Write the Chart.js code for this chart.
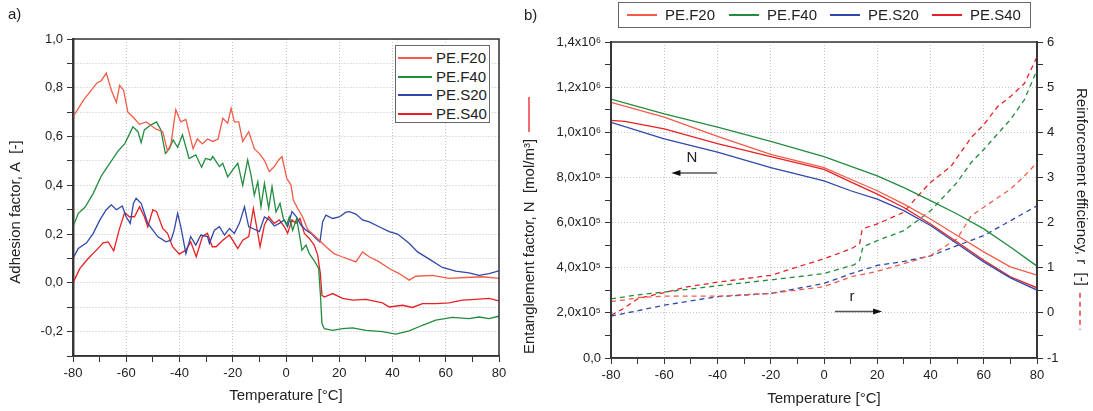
<!DOCTYPE html>
<html>
<head>
<meta charset="utf-8">
<script src="https://cdn.jsdelivr.net/npm/chart.js@4.4.1/dist/chart.umd.min.js"></script>
<style>
  body { margin: 0; background: #fff; font-family: "Liberation Sans", Arial, sans-serif; color: #222; }
  #wrap { position: relative; width: 1093px; height: 411px; overflow: hidden; }
  canvas { position: absolute; top: 0; }
  .lbl { position: absolute; font-size: 15px; }
  .legend { position: absolute; background: #fff; border: 1px solid #666; font-size: 15px; box-sizing: border-box; }
  .legend .item { position: absolute; white-space: nowrap; line-height: 18px; }
  .legend .swatch { position: absolute; height: 2px; }
</style>
</head>
<body>
<div id="wrap">
  <canvas id="chartA" width="520" height="411" style="left:0"></canvas>
  <canvas id="chartB" width="588" height="411" style="left:505px"></canvas>
  <div class="lbl" style="left:8px; top:5px;">a)</div>
  <div class="lbl" style="left:524px; top:6px;">b)</div>
  <div class="legend" id="legA" style="left:395px; top:45px; width:95px; height:78px;"></div>
  <div class="legend" id="legB" style="left:618px; top:2px; width:413px; height:26px;"></div>
</div>
<script>
// series names and colours
const seriesNames = ['PE.F20', 'PE.F40', 'PE.S20', 'PE.S40'];
const seriesColors = ['rgb(242,92,72)', 'rgb(34,140,62)', 'rgb(48,72,170)', 'rgb(232,32,36)'];

// tick labels
const tempTicks = [-80, -60, -40, -20, 0, 20, 40, 60, 80];
const tempLabels = ['-80', '-60', '-40', '-20', '0', '20', '40', '60', '80'];
const adhTicks = [-0.2, 0, 0.2, 0.4, 0.6, 0.8, 1.0];
const adhLabels = ['-0,2', '0,0', '0,2', '0,4', '0,6', '0,8', '1,0'];
const entTicks = [0, 2e5, 4e5, 6e5, 8e5, 1e6, 1.2e6, 1.4e6];
const entLabels = ['0,0', '2,0x10\u2075', '4,0x10\u2075', '6,0x10\u2075', '8,0x10\u2075', '1,0x10\u2076', '1,2x10\u2076', '1,4x10\u2076'];
const effTicks = [-1, 0, 1, 2, 3, 4, 5, 6];
const effLabels = ['-1', '0', '1', '2', '3', '4', '5', '6'];

// panel a) adhesion factor A vs temperature
const tF20a = [-80, -76, -71, -69.3, -67.5, -65.6, -63.7, -62.5, -61, -59.4, -57.5, -55, -52.5, -48.8, -46.3, -44.5, -43.2, -41.4, -39.5, -37.6, -34.9, -33.3, -31.4, -29.5, -27.5, -25.5, -23.75, -21.9, -20.6, -19.4, -17.75, -16.25, -14, -11.9, -10, -8, -6.25, -4.4, -2.75, -1.5, 0.25, 1.9, 2.75, 4.4, 6.25, 8.1, 10, 12.5, 15, 18, 21, 23.75, 26.25, 28.75, 31.25, 35, 38.75, 42.5, 46.25, 48.75, 55, 61.25, 67.5, 73.75, 80];
const aF20 = [0.68, 0.75, 0.82, 0.83, 0.86, 0.79, 0.74, 0.81, 0.79, 0.70, 0.68, 0.65, 0.66, 0.63, 0.62, 0.54, 0.57, 0.71, 0.66, 0.67, 0.55, 0.59, 0.57, 0.59, 0.58, 0.59, 0.675, 0.655, 0.716, 0.66, 0.66, 0.58, 0.62, 0.55, 0.53, 0.50, 0.456, 0.477, 0.504, 0.518, 0.43, 0.40, 0.34, 0.305, 0.27, 0.22, 0.20, 0.175, 0.148, 0.12, 0.107, 0.096, 0.086, 0.127, 0.107, 0.086, 0.059, 0.038, 0.011, 0.027, 0.031, 0.018, 0.022, 0.025, 0.018];

const tF40a = [-80, -78, -75.5, -72.4, -69.3, -66.2, -63.1, -60.6, -58.8, -57.5, -55.6, -54.4, -53.2, -50.7, -48.6, -47, -45.3, -43.8, -42.4, -40.7, -38.9, -36.4, -33.9, -31.7, -30.2, -28.3, -27.5, -25, -23.75, -21.9, -20, -18.1, -16.25, -14.4, -13.1, -11.9, -10.6, -9.4, -8.1, -6.5, -5.25, -3.75, -2.25, -1, 0.25, 1.25, 2.5, 4, 5, 6, 7.5, 8.75, 10, 11.25, 12.25, 12.9, 13.5, 14.4, 17.5, 21.25, 25, 30, 36.25, 41.25, 46.25, 51.25, 56.25, 62.5, 68.75, 72.5, 76.25, 80];
const aF40 = [0.23, 0.285, 0.31, 0.367, 0.44, 0.49, 0.54, 0.57, 0.61, 0.64, 0.62, 0.575, 0.627, 0.648, 0.66, 0.627, 0.53, 0.55, 0.586, 0.556, 0.607, 0.51, 0.525, 0.474, 0.51, 0.504, 0.518, 0.477, 0.49, 0.435, 0.463, 0.49, 0.40, 0.504, 0.44, 0.36, 0.415, 0.312, 0.408, 0.305, 0.394, 0.29, 0.326, 0.264, 0.237, 0.27, 0.216, 0.264, 0.20, 0.134, 0.155, 0.12, 0.10, 0.079, 0.059, -0.044, -0.167, -0.188, -0.195, -0.188, -0.185, -0.195, -0.20, -0.21, -0.197, -0.174, -0.153, -0.142, -0.147, -0.14, -0.147, -0.137];

const tS20a = [-80, -78, -74.9, -72.4, -69.9, -67.5, -65.6, -63.7, -61.5, -60, -58.5, -57.3, -56.3, -54.4, -51.9, -48.2, -45.1, -43.2, -42, -40.7, -39.5, -37.6, -35.8, -33.9, -32, -29.5, -28.75, -26.9, -25, -23.1, -21.25, -19.4, -17.5, -15.6, -14, -12.5, -10, -8.1, -6.25, -4.4, -2.5, -0.6, 0.6, 2.25, 4, 5.6, 7.5, 9.4, 11.25, 12.75, 13.75, 15, 17.5, 20, 22.5, 23.75, 26.25, 28.75, 31.25, 35, 38.75, 41.9, 46.25, 49.4, 54.4, 58.75, 63.75, 68.75, 72.5, 76.25, 80];
const aS20 = [0.10, 0.141, 0.164, 0.203, 0.258, 0.30, 0.32, 0.30, 0.315, 0.27, 0.244, 0.326, 0.347, 0.326, 0.244, 0.19, 0.168, 0.175, 0.216, 0.285, 0.23, 0.12, 0.19, 0.155, 0.196, 0.19, 0.162, 0.216, 0.23, 0.196, 0.223, 0.203, 0.244, 0.312, 0.23, 0.223, 0.21, 0.27, 0.258, 0.233, 0.244, 0.258, 0.23, 0.292, 0.27, 0.237, 0.216, 0.203, 0.182, 0.168, 0.25, 0.278, 0.264, 0.27, 0.29, 0.292, 0.282, 0.258, 0.25, 0.23, 0.21, 0.20, 0.162, 0.127, 0.093, 0.063, 0.048, 0.041, 0.031, 0.038, 0.049];

const tS40a = [-80, -77.4, -74.3, -71.2, -68.7, -66.8, -64.7, -62.7, -60.6, -58.8, -56.9, -55, -53.2, -51.9, -50, -48.6, -46.3, -44.5, -42.6, -40.1, -37.6, -35.8, -33.7, -31.4, -29.5, -27.7, -26.25, -23.75, -21.25, -18.1, -16.25, -14, -12.25, -10.6, -9.75, -8.1, -6.5, -4.4, -2.5, -0.6, 0.6, 2.25, 3.75, 5.25, 6.9, 8.75, 10.6, 11.9, 12.9, 13.5, 14.4, 17.5, 21.25, 25, 30, 36.25, 38.75, 43.75, 47.5, 51.25, 56.25, 61.25, 66.25, 71.25, 76.25, 80];
const aS40 = [0.0, 0.059, 0.10, 0.134, 0.164, 0.168, 0.131, 0.216, 0.288, 0.271, 0.271, 0.312, 0.271, 0.23, 0.30, 0.292, 0.223, 0.203, 0.148, 0.118, 0.134, 0.168, 0.107, 0.19, 0.203, 0.148, 0.148, 0.175, 0.196, 0.141, 0.175, 0.19, 0.305, 0.203, 0.148, 0.237, 0.271, 0.244, 0.258, 0.23, 0.203, 0.258, 0.244, 0.264, 0.203, 0.182, 0.155, 0.114, 0.038, -0.051, -0.058, -0.044, -0.064, -0.071, -0.068, -0.082, -0.099, -0.092, -0.101, -0.085, -0.085, -0.082, -0.071, -0.068, -0.064, -0.074];

// panel b) entanglement factor N (left axis)
const tF20N = [-80, -60, -40, -20, 0, 10, 20, 30, 40, 50, 60, 70, 80];
const nF20 = [1.133e6, 1.067e6, 0.982e6, 0.902e6, 0.843e6, 0.792e6, 0.741e6, 0.682e6, 0.616e6, 0.543e6, 0.470e6, 0.404e6, 0.367e6];
const tF40N = [-80, -60, -40, -20, 0, 20, 30, 40, 50, 60, 70, 80];
const nF40 = [1.147e6, 1.082e6, 1.023e6, 0.960e6, 0.892e6, 0.807e6, 0.755e6, 0.697e6, 0.638e6, 0.572e6, 0.492e6, 0.407e6];
const tS20N = [-80, -60, -40, -20, 0, 10, 20, 30, 40, 50, 60, 70, 80];
const nS20 = [1.044e6, 0.971e6, 0.912e6, 0.843e6, 0.785e6, 0.741e6, 0.704e6, 0.653e6, 0.587e6, 0.506e6, 0.426e6, 0.355e6, 0.301e6];
const tS40N = [-80, -74.8, -60, -40, -20, 0, 10, 20, 30, 40, 50, 60, 70, 80];
const nS40 = [1.053e6, 1.048e6, 1.015e6, 0.950e6, 0.892e6, 0.836e6, 0.780e6, 0.726e6, 0.667e6, 0.594e6, 0.514e6, 0.433e6, 0.360e6, 0.311e6];

// panel b) reinforcement efficiency r (right axis)
const tF20r = [-80, -74.75, -69.75, -60, -40, -20, 0, 10.25, 20, 30, 40, 50, 55.25, 60, 70, 75.25, 80];
const rF20 = [0.25, 0.29, 0.34, 0.37, 0.37, 0.43, 0.58, 0.80, 0.92, 1.09, 1.27, 1.64, 2.15, 2.34, 2.74, 3.03, 3.33];
const tF40r = [-80, -69.75, -60, -40, -20, 0, 11.5, 13.4, 14.6, 20, 30, 40, 50, 55.25, 60, 70, 75.25, 80];
const rF40 = [0.31, 0.40, 0.46, 0.60, 0.73, 0.87, 1.07, 1.16, 1.46, 1.60, 1.82, 2.26, 2.89, 3.33, 3.62, 4.28, 4.72, 5.38];
const tS20r = [-80, -69.75, -60, -40, -20, 0, 10.25, 20, 30, 40, 50, 60, 70, 80];
const rS20 = [-0.07, 0.05, 0.17, 0.36, 0.43, 0.65, 0.87, 1.05, 1.14, 1.26, 1.49, 1.71, 2.04, 2.37];
const tS40r = [-80, -76, -69.75, -60, -51, -40, -20, -9.75, 0, 10.25, 13.4, 14.25, 15.25, 20, 30, 35.25, 40, 47.75, 55.25, 60, 65.25, 70, 75.25, 80];
const rS40 = [-0.05, 0.07, 0.32, 0.45, 0.58, 0.68, 0.83, 1.02, 1.20, 1.42, 1.53, 1.82, 1.88, 1.97, 2.23, 2.59, 2.89, 3.25, 3.88, 4.17, 4.57, 4.79, 5.08, 5.67];

const FONT = '"Liberation Sans", Arial, sans-serif';
Chart.defaults.font.family = FONT;
Chart.defaults.color = '#222';

const pts = (xs, ys) => xs.map((x, i) => ({ x: x, y: ys[i] }));
const lab = (vals, labs) => v => {
  const i = vals.findIndex(t => Math.abs(t - v) <= Math.abs(t) * 1e-9 + 1e-9);
  return i < 0 ? '' : labs[i];
};
const range = (a, b, s) => { const out = []; for (let k = 0; a + k * s <= b + s * 1e-6; k++) out.push(+(a + k * s).toFixed(6)); return out; };
const setTicks = list => s => { s.ticks = list.map(v => ({ value: v })); };
const isMult = (v, m) => Math.abs(v / m - Math.round(v / m)) < 1e-6;

function line(xs, ys, color, axis, dashed) {
  return {
    data: pts(xs, ys), borderColor: color, borderWidth: 1.3, pointRadius: 0, tension: 0,
    yAxisID: axis || 'y', borderDash: dashed ? [5, 4] : [], fill: false
  };
}

function tempAxis(height) {
  return {
    type: 'linear', min: -80, max: 80,
    afterBuildTicks: setTicks(range(-80, 80, 10)),
    afterFit: s => { s.height = height; },
    ticks: { callback: lab(tempTicks, tempLabels), autoSkip: false, maxRotation: 0, padding: 4, font: { size: 13 }, color: '#222' },
    grid: { color: c => (c.tick && isMult(c.tick.value, 20)) ? '#c4c4c4' : 'rgba(0,0,0,0)', tickColor: '#333', tickLength: 6, lineWidth: 1 },
    border: { color: '#333', width: 1.5, dash: [1, 2] }
  };
}

function drawBox(ctx, a) {
  ctx.save();
  ctx.strokeStyle = '#333';
  ctx.lineWidth = 1.5;
  ctx.strokeRect(a.left, a.top, a.right - a.left, a.bottom - a.top);
  ctx.restore();
}

// ---------- panel a ----------
const decorA = {
  id: 'decorA',
  afterDraw(chart) {
    const { ctx, chartArea: a } = chart;
    drawBox(ctx, a);
    ctx.save();
    ctx.fillStyle = '#222';
    ctx.font = '15px ' + FONT;
    ctx.textAlign = 'center';
    ctx.textBaseline = 'middle';
    ctx.fillText('Temperature [\u00B0C]', (a.left + a.right) / 2, 396);
    ctx.translate(16, 212);
    ctx.rotate(-Math.PI / 2);
    ctx.fillText('Adhesion factor, A  [-]', 0, 0);
    ctx.restore();
  }
};

new Chart(document.getElementById('chartA'), {
  type: 'line',
  data: {
    datasets: [
      line(tF20a, aF20, seriesColors[0]),
      line(tF40a, aF40, seriesColors[1]),
      line(tS20a, aS20, seriesColors[2]),
      line(tS40a, aS40, seriesColors[3])
    ]
  },
  options: {
    responsive: false, animation: false,
    layout: { padding: { top: 39, right: 21, left: 0, bottom: 0 } },
    plugins: { legend: { display: false }, tooltip: { enabled: false } },
    scales: {
      x: tempAxis(55),
      y: {
        type: 'linear', min: -0.3, max: 1.0,
        afterBuildTicks: setTicks(range(-0.3, 1.0, 0.1)),
        afterFit: s => { s.width = 73; },
        ticks: { callback: lab(adhTicks, adhLabels), autoSkip: false, padding: 4, font: { size: 13 }, color: '#222' },
        grid: { color: '#c4c4c4', tickColor: '#333', tickLength: 6, lineWidth: 1 },
        border: { color: '#444', width: 2.5, dash: [1, 2] }
      }
    }
  },
  plugins: [decorA]
});

// ---------- panel b ----------
function arrow(ctx, x1, x2, y) {
  const dir = Math.sign(x2 - x1);
  ctx.strokeStyle = '#555';
  ctx.lineWidth = 1.5;
  ctx.beginPath();
  ctx.moveTo(x1, y);
  ctx.lineTo(x2 - dir * 6, y);
  ctx.stroke();
  ctx.fillStyle = '#111';
  ctx.beginPath();
  ctx.moveTo(x2, y);
  ctx.lineTo(x2 - dir * 9, y - 3);
  ctx.lineTo(x2 - dir * 9, y + 3);
  ctx.closePath();
  ctx.fill();
}

const decorB = {
  id: 'decorB',
  afterDraw(chart) {
    const { ctx, chartArea: a } = chart;
    const sx = chart.scales.x, sl = chart.scales.y, sr = chart.scales.y2;
    drawBox(ctx, a);
    ctx.save();
    ctx.fillStyle = '#222';
    ctx.font = '15px ' + FONT;
    ctx.textAlign = 'center';
    ctx.textBaseline = 'middle';
    ctx.fillText('Temperature [\u00B0C]', (a.left + a.right) / 2, 399);

    // annotations: N arrow (left axis), r arrow (right axis)
    ctx.fillText('N', sx.getPixelForValue(-49.6), sl.getPixelForValue(8.86e5));
    arrow(ctx, sx.getPixelForValue(-40.2), sx.getPixelForValue(-57.3), sl.getPixelForValue(8.2e5));
    ctx.fillStyle = '#222';
    ctx.fillText('r', sx.getPixelForValue(10.5), sr.getPixelForValue(0.36));
    arrow(ctx, sx.getPixelForValue(4.1), sx.getPixelForValue(21.8), sr.getPixelForValue(0.03));

    // left title, rotated, with solid red sample
    ctx.save();
    ctx.fillStyle = '#222';
    ctx.translate(25, 354);
    ctx.rotate(-Math.PI / 2);
    ctx.textAlign = 'left';
    const t1 = 'Entanglement factor, N  [mol/m\u00B3]';
    ctx.fillText(t1, 0, 0);
    const w1 = ctx.measureText(t1).width;
    ctx.strokeStyle = seriesColors[3];
    ctx.lineWidth = 1.3;
    ctx.beginPath();
    ctx.moveTo(w1 + 7, -1);
    ctx.lineTo(w1 + 42, -1);
    ctx.stroke();
    ctx.restore();

    // right title, rotated, with dashed red sample
    ctx.save();
    ctx.fillStyle = '#222';
    ctx.translate(576, 88);
    ctx.rotate(Math.PI / 2);
    ctx.textAlign = 'left';
    const t2 = 'Reinforcement efficiency, r  [-]';
    ctx.fillText(t2, 0, 0);
    const w2 = ctx.measureText(t2).width;
    ctx.strokeStyle = seriesColors[3];
    ctx.lineWidth = 1.3;
    ctx.setLineDash([5, 4]);
    ctx.beginPath();
    ctx.moveTo(w2 + 7, 1);
    ctx.lineTo(w2 + 44, 1);
    ctx.stroke();
    ctx.restore();

    ctx.restore();
  }
};

new Chart(document.getElementById('chartB'), {
  type: 'line',
  data: {
    datasets: [
      line(tF20N, nF20, seriesColors[0]),
      line(tF40N, nF40, seriesColors[1]),
      line(tS20N, nS20, seriesColors[2]),
      line(tS40N, nS40, seriesColors[3]),
      line(tF20r, rF20, seriesColors[0], 'y2', true),
      line(tF40r, rF40, seriesColors[1], 'y2', true),
      line(tS20r, rS20, seriesColors[2], 'y2', true),
      line(tS40r, rS40, seriesColors[3], 'y2', true)
    ]
  },
  options: {
    responsive: false, animation: false,
    layout: { padding: { top: 42, right: 0, left: 0, bottom: 0 } },
    plugins: { legend: { display: false }, tooltip: { enabled: false } },
    scales: {
      x: tempAxis(53),
      y: {
        type: 'linear', position: 'left', min: 0, max: 1.4e6,
        afterBuildTicks: setTicks(range(0, 14, 1).map(v => v * 1e5)),
        afterFit: s => { s.width = 106; },
        ticks: { callback: lab(entTicks, entLabels), autoSkip: false, padding: 4, font: { size: 13 }, color: '#222' },
        grid: { color: c => (c.tick && isMult(c.tick.value, 2e5)) ? '#c4c4c4' : 'rgba(0,0,0,0)', tickColor: '#333', tickLength: 6, lineWidth: 1 },
        border: { color: '#444', width: 2, dash: [1, 2] }
      },
      y2: {
        type: 'linear', position: 'right', min: -1, max: 6,
        afterBuildTicks: setTicks(range(-1, 6, 0.5)),
        afterFit: s => { s.width = 56; },
        ticks: { callback: lab(effTicks, effLabels), autoSkip: false, padding: 4, font: { size: 13 }, color: '#222' },
        grid: { drawOnChartArea: false, tickColor: '#333', tickLength: 6 },
        border: { color: '#444', width: 2 }
      }
    }
  },
  plugins: [decorB]
});

// ---------- HTML legends ----------
function buildLegend(el, positions) {
  seriesNames.forEach((name, i) => {
    const p = positions[i];
    const sw = document.createElement('div');
    sw.className = 'swatch';
    sw.style.cssText = 'left:' + p.x + 'px; top:' + Math.round(p.y + 8) + 'px; width:' + p.w + 'px; background:' + seriesColors[i] + ';';
    const tx = document.createElement('div');
    tx.className = 'item';
    tx.style.cssText = 'left:' + Math.round(p.x + p.w + p.gap) + 'px; top:' + Math.round(p.y) + 'px;';
    tx.textContent = name;
    el.appendChild(sw);
    el.appendChild(tx);
  });
}
buildLegend(document.getElementById('legA'), seriesNames.map((n, i) => ({ x: 2, y: 3 + i * 18.5, w: 34, gap: 4 })));
buildLegend(document.getElementById('legB'), seriesNames.map((n, i) => ({ x: Math.round(8 + i * 101.7), y: 3, w: 30, gap: 8 })));
</script>
</body>
</html>
